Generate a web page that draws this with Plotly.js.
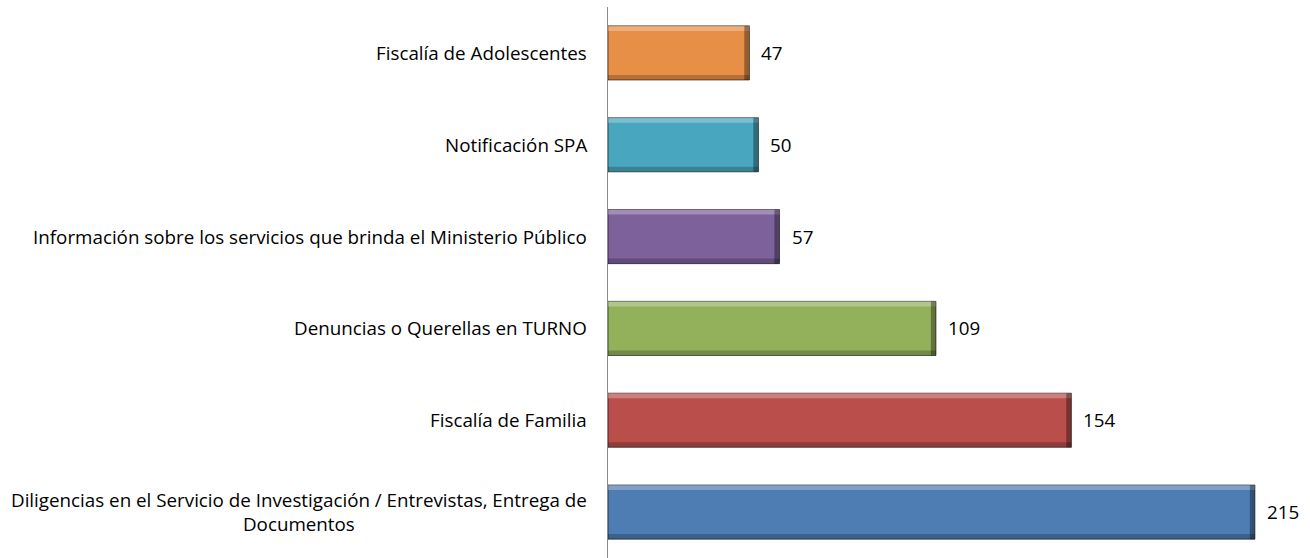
<!DOCTYPE html>
<html><head><meta charset="utf-8">
<script src="https://cdn.plot.ly/plotly-3.0.1.min.js"></script>
<style>html,body{margin:0;padding:0;background:#fff}#c{width:1310px;height:558px}</style>
</head><body><div id="c"></div>
<script>
const categories = [
  "Diligencias en el Servicio de Investigación / Entrevistas, Entrega de<br>Documentos",
  "Fiscalía de Familia",
  "Denuncias o Querellas en TURNO",
  "Información sobre los servicios que brinda el Ministerio Público",
  "Notificación SPA",
  "Fiscalía de Adolescentes"
];
const values = [215, 154, 109, 57, 50, 47];
const colors = ["#4E7DB4", "#BA4E4B", "#93B15A", "#7D619B", "#49A6BF", "#E88F47"];

const BW = 0.59;
const FONT = "'Open Sans', Lato, sans-serif";
const FS = 18.8;
const trace = {
  type: "bar", orientation: "h",
  x: values, y: categories,
  width: BW,
  marker: {color: colors, line: {color: "rgba(0,0,0,0.55)", width: 1}},
  hoverinfo: "none"
};
const shapes = [];
const annotations = [];
values.forEach((v, i) => {
  const h = 0.055;
  shapes.push({type:"rect", xref:"x", yref:"y", x0:0, x1:v, y0:i+BW/2-h, y1:i+BW/2, line:{width:0}, fillcolor:"rgba(255,255,255,0.28)", layer:"above"});
  shapes.push({type:"rect", xref:"x", yref:"y", x0:0, x1:v, y0:i-BW/2, y1:i-BW/2+h, line:{width:0}, fillcolor:"rgba(0,0,0,0.22)", layer:"above"});
  shapes.push({type:"rect", xref:"x", yref:"y", x0:v-1.7, x1:v, y0:i-BW/2, y1:i+BW/2, line:{width:0}, fillcolor:"rgba(0,0,0,0.35)", layer:"above"});
  annotations.push({xref:"x", yref:"y", x:v, y:categories[i], text:String(v), showarrow:false, xanchor:"left", xshift:10, font:{family:FONT, size:FS, color:"#000"}});
  annotations.push({xref:"paper", yref:"y", x:0, y:categories[i], text:categories[i], showarrow:false, xanchor:"right", xshift:-19, align:"center", font:{family:FONT, size:FS, color:"#000"}});
});

const layout = {
  width: 1310, height: 558,
  margin: {l: 608, r: 0, t: 7, b: 0},
  paper_bgcolor: "#fff", plot_bgcolor: "#fff",
  showlegend: false,
  xaxis: {range: [0, 233.3], visible: false, fixedrange: true},
  yaxis: {type: "category", showticklabels: false, ticks: "", showgrid: false, zeroline: false,
          showline: true, linecolor: "#8c8c8c", linewidth: 1, range: [-0.5, 5.5]},
  shapes: shapes,
  annotations: annotations,
  font: {family: FONT}
};
Plotly.newPlot("c", [trace], layout, {staticPlot: true, displayModeBar: false});
</script></body></html>
